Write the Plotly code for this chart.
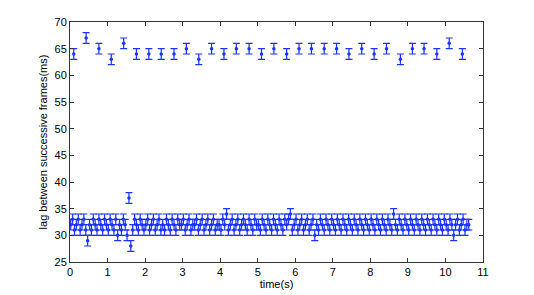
import plotly.graph_objects as go

# Upper series (~64 ms lags)
x_high = [0.1, 0.43, 0.77, 1.1, 1.43, 1.77, 2.1, 2.43, 2.77, 3.1, 3.43, 3.77, 4.1, 4.43, 4.77, 5.1,
          5.43, 5.77, 6.1, 6.43, 6.77, 7.1, 7.43, 7.77, 8.1, 8.43, 8.8, 9.12, 9.43, 9.77, 10.1, 10.45]
y_high = [64, 67, 65, 63, 66, 64, 64, 64, 64, 65, 63, 65, 64, 65, 65, 64,
          65, 64, 65, 65, 65, 65, 64, 65, 64, 65, 63, 65, 65, 64, 66, 64]

# Lower series (~32 ms lags)
x_low = [
    0.02, 0.07, 0.12, 0.17, 0.22, 0.27, 0.32, 0.37, 0.42, 0.47, 0.52, 0.57, 0.62, 0.67, 0.72, 0.77, 0.82, 0.87, 0.92, 0.97,
    1.02, 1.07, 1.12, 1.17, 1.22, 1.27, 1.32, 1.37, 1.42, 1.47, 1.52, 1.57, 1.62, 1.67, 1.72, 1.77, 1.82, 1.87, 1.92, 1.97,
    2.02, 2.07, 2.12, 2.17, 2.22, 2.27, 2.32, 2.37, 2.42, 2.47, 2.52, 2.57, 2.62, 2.67, 2.72, 2.77, 2.82, 2.87, 2.92, 2.97,
    3.02, 3.07, 3.12, 3.17, 3.22, 3.27, 3.32, 3.37, 3.42, 3.47, 3.52, 3.57, 3.62, 3.67, 3.72, 3.77, 3.82, 3.87, 3.92, 3.97,
    4.02, 4.07, 4.12, 4.17, 4.22, 4.27, 4.32, 4.37, 4.42, 4.47, 4.52, 4.57, 4.62, 4.67, 4.72, 4.77, 4.82, 4.87, 4.92, 4.97,
    5.02, 5.07, 5.12, 5.17, 5.22, 5.27, 5.32, 5.37, 5.42, 5.47, 5.52, 5.57, 5.62, 5.67, 5.72, 5.77, 5.82, 5.87, 5.92, 5.97,
    6.02, 6.07, 6.12, 6.17, 6.22, 6.27, 6.32, 6.37, 6.42, 6.47, 6.52, 6.57, 6.62, 6.67, 6.72, 6.77, 6.82, 6.87, 6.92, 6.97,
    7.02, 7.07, 7.12, 7.17, 7.22, 7.27, 7.32, 7.37, 7.42, 7.47, 7.52, 7.57, 7.62, 7.67, 7.72, 7.77, 7.82, 7.87, 7.92, 7.97,
    8.02, 8.07, 8.12, 8.17, 8.22, 8.27, 8.32, 8.37, 8.42, 8.47, 8.52, 8.57, 8.62, 8.67, 8.72, 8.77, 8.82, 8.87, 8.92, 8.97,
    9.02, 9.07, 9.12, 9.17, 9.22, 9.27, 9.32, 9.37, 9.42, 9.47, 9.52, 9.57, 9.62, 9.67, 9.72, 9.77, 9.82, 9.87, 9.92, 9.97,
    10.02, 10.07, 10.12, 10.17, 10.22, 10.27, 10.32, 10.37, 10.42, 10.47, 10.52, 10.57, 10.62,
]
y_low = [
    32, 33, 31, 32, 33, 31, 32, 33, 31, 29, 32, 31, 33, 32, 31, 33, 32, 31, 33, 32,
    31, 33, 32, 31, 33, 30, 32, 31, 33, 32, 30, 37, 28, 31, 33, 32, 31, 33, 32, 31,
    32, 33, 31, 32, 33, 31, 32, 33, 31, 32, 31, 33, 32, 31, 33, 32, 31, 33, 32, 32,
    33, 31, 32, 33, 31, 32, 32, 33, 31, 32, 33, 31, 32, 33, 31, 32, 33, 31, 32, 32,
    31, 33, 32, 34, 31, 32, 33, 31, 32, 33, 31, 32, 33, 32, 31, 33, 32, 31, 33, 32,
    32, 31, 33, 32, 31, 33, 32, 31, 33, 32, 31, 33, 32, 31, 33, 32, 33, 34, 31, 32,
    33, 31, 32, 33, 31, 32, 33, 31, 32, 33, 30, 32, 31, 33, 32, 31, 33, 32, 31, 33,
    32, 31, 33, 32, 31, 33, 32, 31, 33, 32, 31, 33, 32, 31, 33, 32, 31, 33, 32, 31,
    33, 32, 31, 33, 32, 31, 33, 32, 31, 33, 32, 31, 34, 32, 31, 33, 32, 31, 33, 32,
    31, 33, 32, 31, 33, 32, 31, 33, 32, 31, 33, 32, 31, 33, 32, 31, 33, 32, 31, 33,
    32, 31, 33, 32, 30, 32, 33, 31, 32, 33, 31, 32, 32,
]
err_high = [1] * len(y_high)
err_low = [1] * len(y_low)

x_ticks = list(range(0, 12))
y_ticks = list(range(25, 75, 5))

COLOR = "#1a33ff"
FONT = "Liberation Sans, Arial, sans-serif"

fig = go.Figure()
for xs, ys, es in [(x_low, y_low, err_low), (x_high, y_high, err_high)]:
    fig.add_trace(go.Scatter(
        x=xs, y=ys, mode="markers",
        marker=dict(color=COLOR, size=3.5),
        error_y=dict(type="data", array=es, visible=True, color=COLOR, thickness=1.2, width=3.5),
        showlegend=False,
    ))

axis_common = dict(
    showgrid=False, zeroline=False, showline=True, linecolor="#333333", linewidth=1,
    mirror="ticks", ticks="inside", ticklen=4, tickcolor="#333333", automargin=False,
    tickfont=dict(family=FONT, size=11, color="black"),
)
fig.update_xaxes(range=[0, 11], tickvals=x_ticks,
                 title=dict(text="time(s)", standoff=0, font=dict(family=FONT, size=11, color="black")),
                 **axis_common)
fig.update_yaxes(range=[25, 70], tickvals=y_ticks,
                 title=dict(text="lag between successive frames(ms)", standoff=4,
                            font=dict(family=FONT, size=11, color="black")),
                 **axis_common)
# page body has an 8px margin, so the figure is sized to fit inside the window
fig.update_layout(
    width=526, height=287,
    margin=dict(l=62, r=51, t=14, b=33),
    paper_bgcolor="white", plot_bgcolor="white",
)
fig.write_html("out.html")
